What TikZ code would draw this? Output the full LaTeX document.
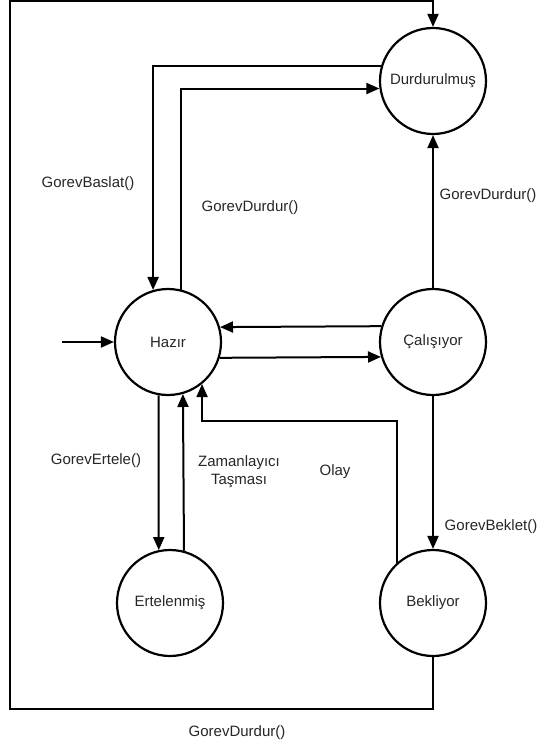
\documentclass[tikz,border=0pt]{standalone}
\usepackage{fontspec}
\setmainfont{Liberation Sans}
\usetikzlibrary{arrows.meta}
\begin{document}
\begin{tikzpicture}[x=1pt,y=-1pt,
  state/.style={circle,draw,line width=2.2pt,minimum size=106pt,inner sep=0pt,font=\fontsize{15}{18}\selectfont,text=black!85},
  arr/.style={line width=2pt,-{Triangle[length=13pt,width=11pt]}},
  lbl/.style={font=\fontsize{15}{18}\selectfont,text=black!85,align=center}]
\useasboundingbox (0,0) rectangle (550,751);
\node[state] (D) at (433,81) {Durdurulmuş};
\node[state] (H) at (168,342) {Hazır};
\node[state] (C) at (433,342) {Çalışıyor};
\node[state] (E) at (170,603) {Ertelenmiş};
\node[state] (B) at (433,603) {Bekliyor};
\coordinate (start) at (62,342);
\coordinate (bh) at (300,421);
\coordinate (bl) at (10,709);
\coordinate (tl) at (10,1.5);
% outer loop
\draw[arr] (B.south) |- (bl) -- (tl) -| (D.north);
% D -> H
\draw[arr] (D.164.7) -| (H.106.4);
% H -> D
\draw[arr] (H.76.9) |- (D.188.7);
% C -> D
\draw[arr] (C.north) -- (D.south);
% C <-> H
\draw[arr] (C.163.6) -- (H.16.4);
\draw[arr] (H.343.6) -- (C.196.4);
% C -> B
\draw[arr] (C.south) -- (B.north);
% H <-> E
\draw[arr] (H.260.2) -- (E.102);
\draw[arr] (E.75.8) -- (H.286.4);
% B -> H
\draw[arr] (B.132.8) |- (bh) -| (H.309.9);
% entry
\draw[arr] (start) -- (H.west);
% labels
\node[lbl] (l1) at (88,184) {GorevBaslat()};
\node[lbl] (l2) at (250,208) {GorevDurdur()};
\node[lbl] (l3) at (488,196) {GorevDurdur()};
\node[lbl] (l4) at (96,461) {GorevErtele()};
\node[lbl] (l5) at (239,472) {Zamanlayıcı\\Taşması};
\node[lbl] (l6) at (335,472) {Olay};
\node[lbl] (l7) at (491,527) {GorevBeklet()};
\node[lbl] (l8) at (237,733) {GorevDurdur()};
\end{tikzpicture}
\end{document}
